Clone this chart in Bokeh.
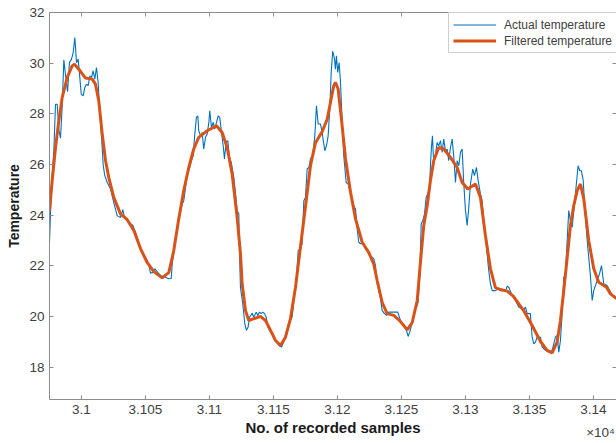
from bokeh.plotting import figure
from bokeh.models import Range1d, LinearAxis, FixedTicker, Legend, LegendItem
from bokeh.embed import file_html
from bokeh.resources import INLINE

# ---- data ----
actual_x = [30975.0, 30975.8, 30977.1, 30978.4, 30979.7, 30981.0, 30982.3, 30983.6, 30984.9, 30986.2,
            30987.5, 30989.1, 30990.6, 30992.2, 30993.5, 30994.8, 30996.1, 30997.4, 30998.7, 30999.8,
            31001.3, 31002.6, 31003.9, 31005.2, 31006.5, 31007.8, 31009.1, 31010.4, 31011.7, 31013.0,
            31014.3, 31015.6, 31017.0, 31018.2, 31020.1, 31022.7, 31025.2, 31027.9, 31030.5, 31032.3,
            31033.6, 31037.0, 31040.1, 31042.7, 31045.3, 31047.7, 31050.0, 31052.6, 31053.9, 31055.5,
            31057.4, 31059.4, 31061.7, 31065.6, 31068.2, 31070.1, 31070.9, 31073.4, 31076.0, 31078.7,
            31079.9, 31081.3, 31082.6, 31084.6, 31085.9, 31087.3, 31088.5, 31089.8, 31090.9, 31091.6,
            31093.0, 31094.3, 31095.5, 31096.9, 31098.2, 31099.5, 31100.2, 31101.6, 31102.9, 31104.1,
            31105.5, 31106.8, 31108.0, 31109.4, 31110.7, 31111.7, 31113.0, 31114.3, 31115.6, 31117.0,
            31119.0, 31120.9, 31121.6, 31122.9, 31123.4, 31124.2, 31126.0, 31127.6, 31128.9, 31130.2,
            31131.3, 31133.4, 31134.6, 31136.5, 31137.7, 31139.1, 31140.4, 31141.6, 31143.0, 31144.3,
            31145.5, 31147.7, 31149.5, 31151.6, 31154.1, 31156.3, 31158.0, 31159.9, 31162.0, 31164.6,
            31165.9, 31167.7, 31169.3, 31171.1, 31172.4, 31173.7, 31175.0, 31176.3, 31177.6, 31178.9,
            31180.7, 31182.3, 31183.6, 31184.9, 31186.7, 31188.0, 31190.1, 31191.4, 31192.7, 31194.0,
            31195.1, 31196.3, 31197.7, 31198.4, 31199.2, 31200.2, 31201.3, 31202.3, 31203.7, 31204.9,
            31206.8, 31208.4, 31209.6, 31210.9, 31212.7, 31214.1, 31215.4, 31216.6, 31218.0, 31220.5,
            31221.9, 31223.2, 31225.0, 31227.1, 31228.4, 31229.7, 31231.0, 31233.6, 31234.9, 31236.7,
            31238.3, 31240.1, 31242.7, 31245.3, 31247.1, 31249.2, 31251.8, 31253.9, 31255.2, 31256.5,
            31258.4, 31259.6, 31261.7, 31263.0, 31264.3, 31265.4, 31266.6, 31268.0, 31269.3, 31270.5,
            31271.9, 31272.7, 31273.4, 31274.2, 31275.2, 31276.6, 31277.9, 31279.1, 31280.5, 31281.8,
            31283.0, 31284.4, 31285.7, 31286.9, 31288.3, 31289.6, 31290.9, 31292.2, 31293.5, 31294.8,
            31296.1, 31297.4, 31298.7, 31300.0, 31301.3, 31302.6, 31303.9, 31305.7, 31307.0, 31308.6,
            31309.9, 31311.7, 31313.0, 31314.3, 31316.4, 31318.2, 31319.5, 31320.9, 31323.4, 31326.0,
            31327.3, 31331.3, 31332.6, 31333.8, 31336.5, 31339.1, 31341.6, 31344.3, 31345.5, 31346.9,
            31348.2, 31350.7, 31352.1, 31353.4, 31354.7, 31356.0, 31358.6, 31359.9, 31362.5, 31365.1,
            31367.7, 31370.3, 31371.6, 31372.9, 31374.2, 31375.5, 31376.8, 31378.1, 31380.7, 31382.0,
            31383.4, 31385.9, 31388.0, 31389.3, 31390.6, 31392.0, 31393.2, 31395.1, 31397.7, 31399.0,
            31400.2, 31402.9, 31404.7, 31406.3, 31408.0, 31410.7, 31413.3, 31415.9, 31417.7]
actual_temp = [22.92, 24.11, 25.56, 26.54, 28.38, 28.38, 27.37, 27.04, 28.28, 30.13,
               29.54, 28.87, 30.02, 30.16, 30.42, 31.01, 30.02, 30.16, 29.42, 28.78,
               28.71, 29.04, 29.17, 29.11, 29.50, 29.43, 29.70, 29.37, 29.83, 29.24,
               28.05, 27.13, 25.95, 25.56, 25.29, 25.03, 24.50, 23.98, 23.91, 24.22,
               23.90, 23.72, 23.59, 23.26, 22.80, 22.52, 22.33, 22.05, 21.71, 21.73,
               21.88, 21.75, 21.62, 21.55, 21.49, 21.50, 22.08, 23.00, 23.78, 24.44,
               24.57, 25.10, 25.62, 25.88, 26.15, 26.35, 27.20, 27.86, 27.92, 27.33,
               27.13, 27.26, 26.61, 27.07, 27.20, 27.66, 28.12, 27.46, 27.66, 27.40,
               27.66, 27.92, 27.86, 27.26, 26.74, 26.22, 26.87, 26.94, 26.28, 26.08,
               25.49, 24.57, 24.18, 24.05, 22.60, 21.15, 20.50, 19.71, 19.45, 19.58,
               19.97, 20.13, 19.97, 20.17, 20.04, 20.17, 20.11, 20.17, 20.11, 19.97,
               19.58, 19.38, 19.25, 19.05, 18.86, 18.79, 18.99, 19.38, 19.71, 19.97,
               20.63, 21.29, 22.60, 22.67, 22.87, 24.57, 24.70, 25.82, 25.88, 26.22,
               26.35, 27.13, 28.32, 27.60, 27.60, 27.26, 26.54, 26.74, 27.13, 28.19,
               29.63, 30.48, 30.16, 29.76, 30.29, 29.63, 30.02, 29.30, 27.66, 26.35,
               25.29, 25.23, 24.97, 24.77, 24.37, 24.24, 23.46, 22.93, 22.87, 22.87,
               22.67, 22.60, 22.40, 22.34, 22.27, 22.01, 21.30, 20.71, 20.24, 20.11,
               20.04, 20.17, 20.17, 20.17, 20.17, 19.84, 19.64, 19.45, 19.21, 19.38,
               19.77, 20.11, 20.37, 20.56, 21.68, 23.65, 23.78, 24.05, 24.70, 24.84,
               25.10, 26.02, 26.67, 27.13, 26.02, 26.41, 26.87, 26.74, 26.94, 26.48,
               27.00, 26.54, 26.61, 26.15, 26.67, 27.00, 26.28, 25.29, 26.15, 25.95,
               26.48, 26.61, 25.23, 24.18, 23.59, 24.31, 25.23, 25.82, 25.56, 25.88,
               25.36, 24.84, 24.57, 23.78, 22.73, 21.81, 21.29, 21.02, 21.02, 21.09,
               21.02, 21.02, 21.19, 21.15, 20.83, 20.63, 20.37, 20.30, 20.24, 20.37,
               20.11, 20.11, 19.18, 18.92, 18.99, 19.18, 19.18, 18.79, 18.66, 18.59,
               18.66, 19.18, 19.25, 18.59, 19.05, 20.11, 21.55, 21.68, 24.18, 23.78,
               23.52, 24.84, 25.95, 25.75, 25.75, 25.36, 24.31, 23.00, 21.55, 20.63,
               21.02, 21.42, 21.68, 22.01, 21.29, 21.22, 20.96, 20.76, 20.70]

filtered_x = [30975.0, 30977.1, 30979.7, 30982.3, 30984.9, 30988.8, 30992.7, 30994.5, 30997.9, 31003.1,
              31008.4, 31010.9, 31013.5, 31016.2, 31018.8, 31021.3, 31025.2, 31030.5, 31035.7, 31040.9,
              31046.1, 31051.3, 31056.5, 31063.0, 31068.2, 31072.1, 31076.0, 31079.9, 31083.8, 31087.7,
              31091.6, 31098.2, 31105.5, 31109.9, 31113.8, 31117.7, 31121.6, 31124.2, 31125.5, 31128.1,
              31130.7, 31134.6, 31139.8, 31143.8, 31147.7, 31151.6, 31155.5, 31159.4, 31163.3, 31167.2,
              31171.1, 31175.0, 31178.9, 31182.8, 31188.0, 31192.0, 31194.5, 31197.1, 31198.4, 31200.5,
              31203.1, 31206.3, 31210.2, 31214.1, 31219.3, 31224.5, 31228.4, 31231.0, 31234.9, 31238.8,
              31244.0, 31249.2, 31254.5, 31258.4, 31262.3, 31264.8, 31267.4, 31270.1, 31272.6, 31275.2,
              31279.1, 31283.0, 31288.3, 31293.5, 31297.4, 31301.8, 31307.8, 31311.7, 31315.6, 31319.5,
              31323.4, 31327.3, 31332.6, 31337.5, 31345.3, 31352.1, 31358.6, 31363.8, 31367.7, 31371.6,
              31374.2, 31376.8, 31379.5, 31382.0, 31384.6, 31387.3, 31389.8, 31392.4, 31396.3, 31400.2,
              31404.1, 31410.2, 31413.3, 31418.0]
filtered_temp = [24.18, 25.36, 26.67, 27.73, 28.64, 29.43, 29.89, 29.96, 29.76, 29.41,
                 29.37, 29.17, 28.51, 27.20, 26.15, 25.49, 24.70, 24.05, 23.82, 23.39,
                 22.68, 22.13, 21.77, 21.52, 21.73, 22.60, 23.86, 24.97, 25.88, 26.61,
                 27.07, 27.33, 27.53, 27.26, 26.67, 25.62, 23.91, 22.48, 21.30, 20.24,
                 19.84, 19.91, 20.00, 19.84, 19.45, 19.05, 18.86, 19.18, 19.92, 21.15,
                 22.76, 24.34, 25.95, 26.86, 27.29, 27.79, 28.45, 29.11, 29.24, 28.98,
                 27.79, 26.22, 24.90, 23.85, 22.93, 22.52, 22.05, 21.42, 20.56, 20.11,
                 20.04, 19.80, 19.47, 19.76, 20.63, 22.13, 23.59, 24.37, 25.36, 26.15,
                 26.67, 26.61, 26.28, 25.88, 25.29, 25.03, 25.23, 24.70, 23.19, 21.89,
                 21.14, 21.06, 21.00, 20.79, 20.24, 19.64, 19.01, 18.66, 18.56, 18.99,
                 19.84, 21.02, 22.33, 23.59, 24.37, 24.97, 25.23, 24.65, 23.00, 21.89,
                 21.35, 21.15, 20.89, 20.71]

x_ticks = [31000, 31050, 31100, 31150, 31200, 31250, 31300, 31350, 31400]
x_tick_labels = ["3.1", "3.105", "3.11", "3.115", "3.12", "3.125", "3.13", "3.135", "3.14"]
y_ticks = [18, 20, 22, 24, 26, 28, 30, 32]
series_names = ["Actual temperature", "Filtered temperature"]
exponent_label = "\u00d710\u2074"
exponent_pos = 31405.5

# ---- style ----
FONT = "Liberation Sans"
AX = "#8c8c8c"
TXT = "#404040"
BLUE = "#0072BD"
ORANGE = "#D95319"

p = figure(width=616, height=443,
           x_range=Range1d(30975, 31418), y_range=Range1d(16.72, 32),
           output_backend="svg", toolbar_location=None,
           min_border_left=49, min_border_right=0, min_border_top=12, min_border_bottom=44)
p.background_fill_color = "white"
p.border_fill_color = "white"
p.outline_line_color = None
p.xgrid.visible = False
p.ygrid.visible = False


def style(ax):
    ax.axis_line_color = AX
    ax.major_tick_line_color = AX
    ax.major_tick_in = 4
    ax.major_tick_out = 0
    ax.minor_tick_line_color = None
    ax.major_label_text_font = FONT
    ax.major_label_text_font_size = "13.5px"
    ax.major_label_text_color = TXT
    ax.axis_label_text_font = FONT
    ax.axis_label_text_font_style = "bold"
    ax.axis_label_text_color = "#1a1a1a"


xa = p.xaxis[0]
xa.ticker = FixedTicker(ticks=x_ticks)
xa.major_label_overrides = {t: s for t, s in zip(x_ticks, x_tick_labels)}
xa.axis_label = "No. of recorded samples"
style(xa)
xa.axis_label_text_font_size = "15px"
xa.major_label_standoff = 5
xa.axis_label_standoff = 2

ya = p.yaxis[0]
ya.ticker = FixedTicker(ticks=y_ticks)
ya.axis_label = "Temperature"
style(ya)
ya.axis_label_text_font_size = "14px"
ya.major_label_standoff = 5
ya.axis_label_standoff = 4


def tick_only(ax, ticks, line):
    ax.ticker = FixedTicker(ticks=[], minor_ticks=ticks)
    ax.axis_line_color = AX if line else None
    ax.major_tick_line_color = None
    ax.minor_tick_line_color = AX
    ax.minor_tick_in = 4
    ax.minor_tick_out = 0
    ax.major_label_standoff = 0


top = LinearAxis()
tick_only(top, x_ticks, True)
p.add_layout(top, "above")

right = LinearAxis()
tick_only(right, y_ticks, False)
p.add_layout(right, "right")

# exponent marker of the x axis (x 10^4), drawn as a tick label of a line-less axis
exp_axis = LinearAxis(ticker=FixedTicker(ticks=[exponent_pos]),
                      major_label_overrides={exponent_pos: exponent_label})
exp_axis.axis_line_color = None
exp_axis.major_tick_line_color = None
exp_axis.minor_tick_line_color = None
exp_axis.major_label_text_font = FONT
exp_axis.major_label_text_font_size = "13.5px"
exp_axis.major_label_text_color = TXT
exp_axis.major_label_standoff = -20
p.add_layout(exp_axis, "below")

r1 = p.line(actual_x, actual_temp, line_color=BLUE, line_width=1.1)
r2 = p.line(filtered_x, filtered_temp, line_color=ORANGE, line_width=3)

legend = Legend(items=[LegendItem(label=series_names[0], renderers=[r1]),
                       LegendItem(label=series_names[1], renderers=[r2])],
                location=(399, 346))
legend.label_text_font = FONT
legend.label_text_font_size = "12px"
legend.label_text_color = TXT
legend.padding = 4
legend.spacing = 1
legend.label_height = 15
legend.glyph_height = 15
legend.glyph_width = 43
legend.label_standoff = 8
legend.margin = 0
legend.border_line_color = "#a0a0a0"
legend.border_line_width = 1
legend.background_fill_color = "white"
legend.background_fill_alpha = 1
p.add_layout(legend)

open("out.html", "w").write(file_html(p, INLINE))
